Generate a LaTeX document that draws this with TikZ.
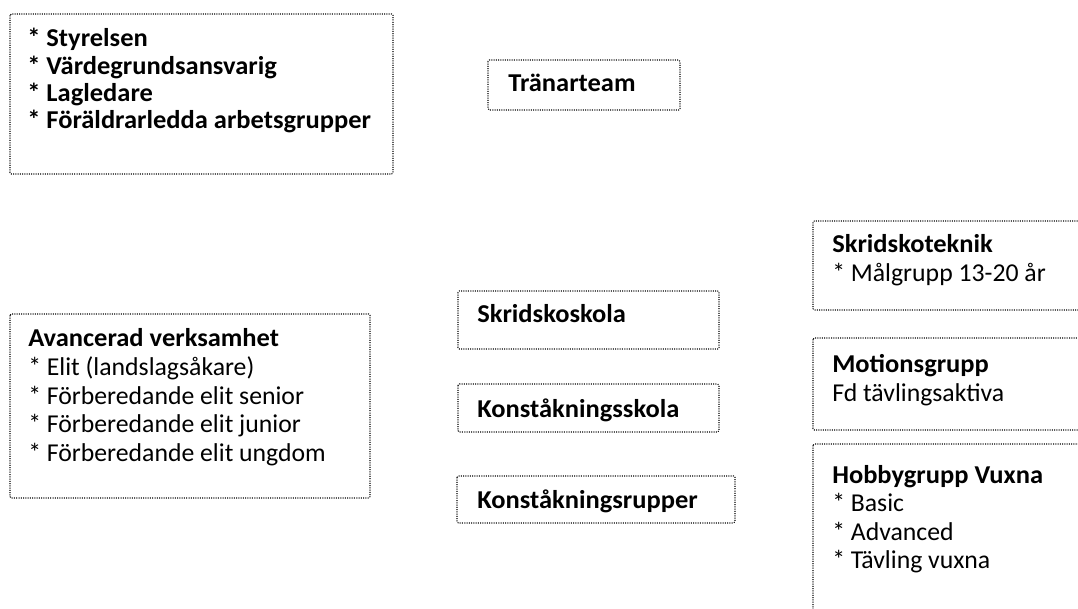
\documentclass[tikz,border=0pt]{standalone}
\usepackage{fontspec}
\setmainfont{Carlito}[BoldFeatures={FakeStretch=1.03}]
\newcommand{\bst}{\relax*}
\tikzset{
  box/.style={draw=black, line width=0.8pt, dash pattern=on 0.75pt off 0.95pt, rounded corners=1pt},
  txt/.style={anchor=base west, inner sep=0pt, text width=400pt, align=left,
    font=\fontsize{19.3}{21.4}\selectfont,
    execute at begin node={\spaceskip=0pt\xspaceskip=0pt}},
  txtb/.style={txt, font=\fontsize{19.3}{20.3}\selectfont\bfseries},
}
\begin{document}
\begin{tikzpicture}[x=0.75pt,y=-0.75pt]
\useasboundingbox (0,0) rectangle (1078,609);
\clip (0,0) rectangle (1078,609);
% boxes
\draw[box] (10,14) rectangle (393,174);
\draw[box] (488,60) rectangle (680,110);
\draw[box] (813,221) rectangle (1095,310);
\draw[box] (813,338) rectangle (1095,430);
\draw[box] (813,444) rectangle (1095,630);
\draw[box] (458,291) rectangle (719,349);
\draw[box] (458,384) rectangle (719,432);
\draw[box] (457,476) rectangle (735,523);
\draw[box] (10,314) rectangle (370,498);
% texts
\node[txtb] (t1) at (27,47) {\bst{} Styrelsen\\\bst{} Värdegrundsansvarig\\\bst{} Lagledare\\\bst{} Föräldrarledda arbetsgrupper};
\node[txtb] (t2) at (508,92) {Tränarteam};
\node[txt] (t3) at (832,253) {\textbf{Skridskoteknik}\\\bst{} Målgrupp 13-20 år};
\node[txt] (t4) at (832,373) {\textbf{Motionsgrupp}\\Fd tävlingsaktiva};
\node[txt] (t5) at (832,483) {\textbf{Hobbygrupp Vuxna}\\\bst{} Basic\\\bst{} Advanced\\\bst{} Tävling vuxna};
\node[txtb] (t6) at (477,323) {Skridskoskola};
\node[txtb] (t7) at (477,417) {Konståkningsskola};
\node[txtb] (t8) at (477,508) {Konståkningsrupper};
\node[txt] (t9) at (28,347) {\textbf{Avancerad verksamhet}\\\bst{} Elit (landslagsåkare)\\\bst{} Förberedande elit senior\\\bst{} Förberedande elit junior\\\bst{} Förberedande elit ungdom};
\end{tikzpicture}
\end{document}
